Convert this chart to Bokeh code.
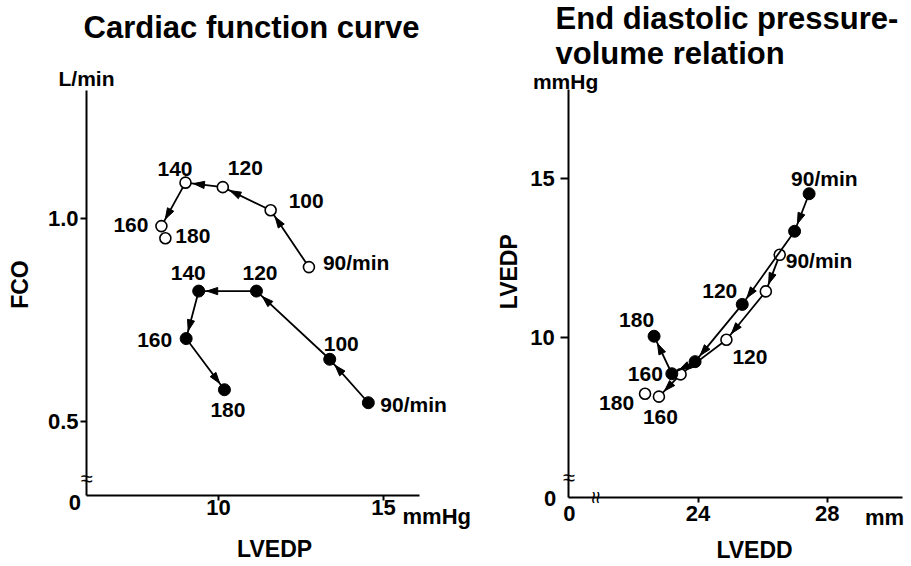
import math
from bokeh.plotting import figure
from bokeh.models import (Range1d, FixedTicker, PrintfTickFormatter, ColumnDataSource,
                          LabelSet, Label)
from bokeh.core.properties import value
from bokeh.layouts import row
from bokeh.embed import file_html
from bokeh.resources import INLINE

FONT = "Liberation Sans"

# ---------------- data ----------------
heart_rate = [90, 100, 120, 140, 160, 180]

# Cardiac function curve: LVEDP (mmHg) vs FCO (L/min)
cf_open_lvedp = [12.74, 11.58, 10.13, 9.00, 8.27, 8.39]
cf_open_fco = [0.880, 1.020, 1.077, 1.088, 0.981, 0.951]
cf_fill_lvedp = [14.54, 13.37, 11.15, 9.40, 9.02, 10.18]
cf_fill_fco = [0.546, 0.653, 0.821, 0.821, 0.704, 0.578]
cf_open_labels = ["90/min", "100", "120", "140", "160", "180"]
cf_fill_labels = ["90/min", "100", "120", "140", "160", "180"]

# End diastolic pressure-volume relation: LVEDD (mm) vs LVEDP (mmHg)
pv_open_lvedd = [26.53, 26.10, 24.88, 23.46, 22.79, 22.36]
pv_open_lvedp = [12.61, 11.46, 9.94, 8.85, 8.15, 8.24]
pv_fill_lvedd = [27.44, 26.99, 25.37, 23.91, 23.19, 22.64]
pv_fill_lvedp = [14.53, 13.35, 11.05, 9.25, 8.87, 10.05]
pv_open_labels = ["90/min", "", "120", "", "160", "180"]
pv_fill_labels = ["90/min", "", "120", "", "160", "180"]

cf_xticks = [10, 15]
cf_yticks = [0.5, 1.0]
pv_xticks = [24, 28]
pv_yticks = [10, 15]

# axis extents (data units)
cf_x_axis = (6.0, 16.09)
cf_y_axis = (0.3175, 1.315)
pv_x_axis = (20.0, 30.34)
pv_y_axis = (4.97, 17.8)


def make_fig(xr, yr, fw, fh, xaxis_ext, yaxis_ext):
    p = figure(x_range=Range1d(*xr), y_range=Range1d(*yr),
               frame_width=fw, frame_height=fh,
               min_border_left=0, min_border_top=0, min_border_bottom=0,
               min_border_right=0, toolbar_location=None, output_backend="svg")
    p.title.visible = False
    p.outline_line_color = None
    p.grid.visible = False
    p.background_fill_color = "white"
    p.border_fill_color = "white"
    p.xaxis.fixed_location = yaxis_ext[0]
    p.xaxis.bounds = xaxis_ext
    p.yaxis.fixed_location = xaxis_ext[0]
    p.yaxis.bounds = yaxis_ext
    for ax in (p.xaxis[0], p.yaxis[0]):
        ax.axis_line_width = 2
        ax.major_tick_line_width = 2
        ax.minor_tick_line_color = None
        ax.major_label_text_font = FONT
        ax.major_label_text_font_style = "bold"
        ax.major_label_text_font_size = "22px"
        ax.major_label_text_color = "black"
        ax.major_tick_in = 0
    return p


def lab(p, x, y, text, size="23px", align="center", angle=0.0, style="bold"):
    # y is the vertical centre of the text
    p.add_layout(Label(x=x, y=y, text=text, text_font=FONT, text_font_style=style,
                       text_font_size=size, text_align=align, text_baseline="middle",
                       angle=angle, text_color="black"))


def arrow_heads(p, xs, ys, nseg, sx, sy, back=8.0, length=11.0, half=3.6):
    hx, hy = [], []
    for i in range(nseg):
        x0, y0, x1, y1 = xs[i], ys[i], xs[i + 1], ys[i + 1]
        dxp, dyp = (x1 - x0) * sx, (y1 - y0) * sy
        L = math.hypot(dxp, dyp)
        ux, uy = dxp / L, dyp / L
        tx, ty = x1 - back * ux / sx, y1 - back * uy / sy
        bx, by = tx - length * ux / sx, ty - length * uy / sy
        c1 = (bx - half * uy / sx, by + half * ux / sy)
        c2 = (bx + half * uy / sx, by - half * ux / sy)
        hx.append([tx, c1[0], c2[0]])
        hy.append([ty, c1[1], c2[1]])
    p.patches(hx, hy, fill_color="black", line_color="black", line_width=1)


def series(p, xs, ys, labels, nseg, filled, sx, sy, dx, dy):
    p.line(xs[:nseg + 1], ys[:nseg + 1], line_color="black", line_width=1.8)
    arrow_heads(p, xs, ys, nseg, sx, sy)
    if filled:
        p.scatter(xs, ys, size=12, fill_color="black", line_color="black")
    else:
        p.scatter(xs, ys, size=11, fill_color="white", line_color="black", line_width=1.6)
    src = ColumnDataSource(dict(x=xs, y=ys, t=labels, dx=dx, dy=dy))
    p.add_layout(LabelSet(x="x", y="y", text="t", source=src, x_offset="dx", y_offset="dy",
                          text_font=value(FONT), text_font_style="bold",
                          text_font_size="21px", text_align="left",
                          text_baseline="alphabetic", text_color="black"))


H = 563

# ---------------- left panel ----------------
lx = (3.394, 17.939)
ly = (0.1500, 1.5367)
lfw = 480
p1 = make_fig(lx, ly, lfw, H, cf_x_axis, cf_y_axis)
p1.xaxis.ticker = FixedTicker(ticks=cf_xticks)
p1.xaxis.major_tick_out = 5
p1.xaxis.major_label_standoff = 0
p1.yaxis.ticker = FixedTicker(ticks=cf_yticks)
p1.yaxis.formatter = PrintfTickFormatter(format="%.1f")
p1.yaxis.major_tick_out = 6
p1.yaxis.major_label_standoff = 2
sx1 = lfw / (lx[1] - lx[0])
sy1 = H / (ly[1] - ly[0])

series(p1, cf_open_lvedp, cf_open_fco, cf_open_labels, 4, False, sx1, sy1,
       [14, 18, 5, -28, -48, 10], [-3, 2, 12, 7, -6, -5])
series(p1, cf_fill_lvedp, cf_fill_fco, cf_fill_labels, 5, True, sx1, sy1,
       [12, -6, -14, -28, -49, -14], [-9, 8, 11, 11, -8, -27])

lab(p1, 11.0, 1.4714, "Cardiac function curve", size="31px")
lab(p1, 6.0, 1.3458, "L/min", size="21px")
lab(p1, 3.97, 0.837, "FCO", size="23px", angle=math.pi / 2)
lab(p1, 11.70, 0.1845, "LVEDP", size="23px")
lab(p1, 15.576, 0.2657, "mmHg", size="22px", align="left")
lab(p1, 5.65, 0.301, "0", size="22px")
lab(p1, 6.0, 0.360, "≈", size="22px", style="normal")

# ---------------- right panel ----------------
rx = (17.266, 30.548)
ry = (2.903, 20.607)
rfw = 429
p2 = make_fig(rx, ry, rfw, H, pv_x_axis, pv_y_axis)
p2.xaxis.ticker = FixedTicker(ticks=pv_xticks)
p2.xaxis.major_tick_out = 5
p2.xaxis.major_label_standoff = 3
p2.yaxis.ticker = FixedTicker(ticks=pv_yticks)
p2.yaxis.major_tick_out = 8
p2.yaxis.major_label_standoff = 6
sx2 = rfw / (rx[1] - rx[0])
sy2 = H / (ry[1] - ry[0])

series(p2, pv_open_lvedd, pv_open_lvedp, pv_open_labels, 4, False, sx2, sy2,
       [6, 0, 6, 0, -16, -46], [-13, 0, -24, 0, -27, -16])
series(p2, pv_fill_lvedd, pv_fill_lvedp, pv_fill_labels, 5, True, sx2, sy2,
       [-18, 0, -40, 0, -44, -35], [8, 0, 6, 0, -7, 9])

lab(p2, 19.59, 20.041, "End diastolic pressure-", size="31px", align="left")
lab(p2, 19.59, 18.940, "volume relation", size="31px", align="left")
lab(p2, 19.9, 18.06, "mmHg", size="21px")
lab(p2, 18.16, 12.08, "LVEDP", size="23px", angle=math.pi / 2)
lab(p2, 25.75, 3.343, "LVEDD", size="23px")
lab(p2, 30.38, 4.349, "mm", size="22px", align="right")
lab(p2, 19.42, 4.96, "0", size="22px")
lab(p2, 20.02, 4.49, "0", size="22px")
lab(p2, 20.0, 5.61, "≈", size="22px", style="normal")
lab(p2, 20.83, 4.97, "≈", size="22px", angle=math.pi / 2, style="normal")

layout = row(p1, p2)
open("out.html", "w").write(file_html(layout, INLINE))
